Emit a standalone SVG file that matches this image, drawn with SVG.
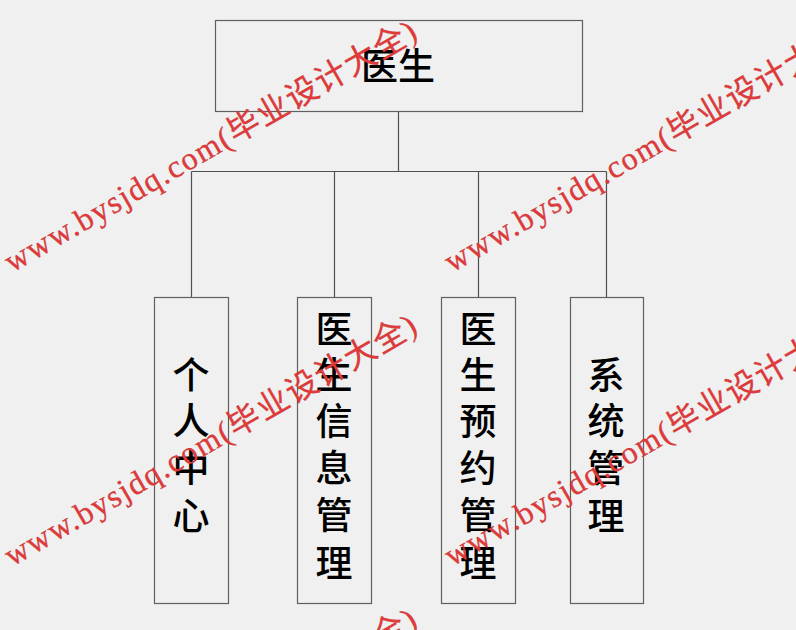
<svg xmlns="http://www.w3.org/2000/svg" width="796" height="630" viewBox="0 0 796 630">
<style>
.box{fill:#f0f0f0;stroke:#606060;stroke-width:1.2}
.lbl{font-family:"Noto Sans CJK SC","Noto Sans",sans-serif;font-size:37px;font-weight:500;fill:#000;text-anchor:middle}
.wm{font-family:"Liberation Serif","Noto Sans CJK SC",serif;font-size:32px;fill:#e23a3a;stroke:#c03030;stroke-width:0.3}
.conn{stroke:#505050;stroke-width:1.2;fill:none}
</style>
<rect width="796" height="630" fill="#f0f0f0"/>
<g id="connectors">
<path class="conn" d="M398.5 111V171.5M191.5 171.5H606.5M191.5 171.5V297M334.5 171.5V297M478.5 171.5V297M606.5 171.5V297"/>
</g>
<g id="node-root">
<rect class="box" x="215.5" y="20.5" width="367" height="91"/>
<text class="lbl" x="398" y="80">医生</text>
</g>
<g id="node-personal">
<rect class="box" x="154.5" y="297.5" width="74" height="306"/>
<text class="lbl" x="191" y="389">个</text>
<text class="lbl" x="191" y="435">人</text>
<text class="lbl" x="191" y="482">中</text>
<text class="lbl" x="191" y="530">心</text>
</g>
<g id="node-doctorinfo">
<rect class="box" x="297.5" y="297.5" width="74" height="306"/>
<text class="lbl" x="334" y="343">医</text>
<text class="lbl" x="334" y="389">生</text>
<text class="lbl" x="334" y="435">信</text>
<text class="lbl" x="334" y="482">息</text>
<text class="lbl" x="334" y="529">管</text>
<text class="lbl" x="334" y="577">理</text>
</g>
<g id="node-appointment">
<rect class="box" x="441.5" y="297.5" width="74" height="306"/>
<text class="lbl" x="478" y="343">医</text>
<text class="lbl" x="478" y="389">生</text>
<text class="lbl" x="478" y="435">预</text>
<text class="lbl" x="478" y="482">约</text>
<text class="lbl" x="478" y="529">管</text>
<text class="lbl" x="478" y="577">理</text>
</g>
<g id="node-system">
<rect class="box" x="570.5" y="297.5" width="73" height="306"/>
<text class="lbl" x="606" y="389">系</text>
<text class="lbl" x="606" y="435">统</text>
<text class="lbl" x="606" y="482">管</text>
<text class="lbl" x="606" y="530">理</text>
</g>
<g id="watermarks">
<text class="wm" transform="translate(12 273) rotate(-30)" textLength="470" lengthAdjust="spacing">www.bysjdq.com(毕业设计大全)</text>
<text class="wm" transform="translate(452 273) rotate(-30)" textLength="470" lengthAdjust="spacing">www.bysjdq.com(毕业设计大全)</text>
<text class="wm" transform="translate(12 567) rotate(-30)" textLength="470" lengthAdjust="spacing">www.bysjdq.com(毕业设计大全)</text>
<text class="wm" transform="translate(452 567) rotate(-30)" textLength="470" lengthAdjust="spacing">www.bysjdq.com(毕业设计大全)</text>
<text class="wm" transform="translate(12 861) rotate(-30)" textLength="470" lengthAdjust="spacing">www.bysjdq.com(毕业设计大全)</text>
</g>
</svg>
